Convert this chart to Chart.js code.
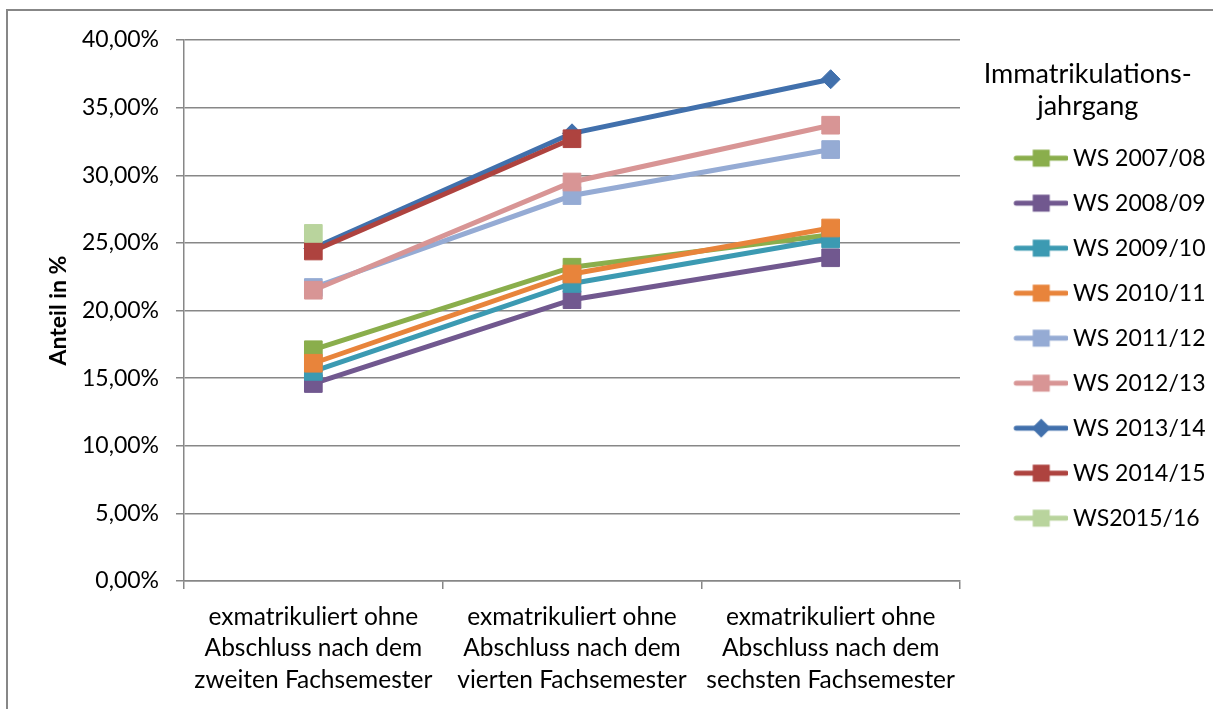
<!DOCTYPE html>
<html>
<head>
<meta charset="utf-8">
<script src="https://cdn.jsdelivr.net/npm/chart.js@4/dist/chart.umd.min.js"></script>
<style>
  html, body { margin: 0; padding: 0; background: #fff; }
  #wrap { position: relative; width: 1213px; height: 709px; overflow: hidden; }
  #frame { position: absolute; left: 6px; top: 9px; width: 1300px; height: 800px; border-left: 2px solid #878787; border-top: 2px solid #878787; }
  #c { position: absolute; left: 0; top: 0; }
</style>
</head>
<body>
<div id="wrap">
  <div id="frame"></div>
  <canvas id="c" width="1213" height="709"></canvas>
</div>
<script>
/* global Chart */
const categories = [
  ['exmatrikuliert ohne', 'Abschluss nach dem', 'zweiten Fachsemester'],
  ['exmatrikuliert ohne', 'Abschluss nach dem', 'vierten Fachsemester'],
  ['exmatrikuliert ohne', 'Abschluss nach dem', 'sechsten Fachsemester'],
];

const seriesNames = ['WS 2007/08', 'WS 2008/09', 'WS 2009/10', 'WS 2010/11', 'WS 2011/12',
  'WS 2012/13', 'WS 2013/14', 'WS 2014/15', 'WS2015/16'];

const ws0708 = [17.1, 23.2, 25.6];
const ws0809 = [14.6, 20.8, 23.9];
const ws0910 = [15.5, 22.0, 25.3];
const ws1011 = [16.1, 22.7, 26.1];
const ws1112 = [21.7, 28.5, 31.9];
const ws1213 = [21.5, 29.5, 33.7];
const ws1314 = [24.6, 33.1, 37.1];
const ws1415 = [24.4, 32.7, null];
const ws1516 = [25.7, null, null];

const seriesValues = [ws0708, ws0809, ws0910, ws1011, ws1112, ws1213, ws1314, ws1415, ws1516];
const seriesColors = ['#8AAE4C', '#71588F', '#3C9AB2', '#E8843B', '#95ABD4', '#D89595', '#4170AC', '#AE433F', '#B9D49D'];
const seriesMarkers = ['rect', 'rect', 'rect', 'rect', 'rect', 'rect', 'rectRot', 'rect', 'rect'];

const yTicks = [0, 5, 10, 15, 20, 25, 30, 35, 40];

const FONT = 'Lato, "Open Sans", sans-serif';
const LABEL_SIZE = 23;
const PLOT_RIGHT = 960;

// legend swatch: line with marker, drawn into a small canvas
function swatch(color, marker) {
  const cv = document.createElement('canvas');
  cv.width = 93;
  cv.height = 22;
  const g = cv.getContext('2d');
  g.strokeStyle = color;
  g.lineWidth = 5;
  g.lineCap = 'round';
  g.beginPath();
  g.moveTo(41, 11);
  g.lineTo(91, 11);
  g.stroke();
  g.fillStyle = color;
  if (marker === 'rectRot') {
    g.beginPath();
    g.moveTo(66, 1.5);
    g.lineTo(75.5, 11);
    g.lineTo(66, 20.5);
    g.lineTo(56.5, 11);
    g.closePath();
    g.fill();
  } else {
    g.fillRect(57.5, 2.5, 17, 17);
  }
  return cv;
}

const datasets = seriesNames.map((name, i) => ({
  label: name,
  data: seriesValues[i],
  borderColor: seriesColors[i],
  backgroundColor: seriesColors[i],
  pointBackgroundColor: seriesColors[i],
  pointBorderColor: seriesColors[i],
  pointStyle: seriesMarkers[i],
  pointRadius: seriesMarkers[i] === 'rectRot' ? 9.5 : 12.5,
  pointBorderWidth: 1,
  borderWidth: 5,
  tension: 0,
  order: seriesNames.length - i,
}));

const swatches = seriesNames.map((n, i) => swatch(seriesColors[i], seriesMarkers[i]));

const chart = new Chart(document.getElementById('c'), {
  type: 'line',
  data: { labels: categories, datasets },
  options: {
    responsive: false,
    animation: false,
    events: [],
    layout: { padding: { left: 0, top: 40, right: 10, bottom: 0 } },
    font: { family: FONT },
    scales: {
      x: {
        offset: true,
        grid: { display: true, offset: true, drawOnChartArea: false, drawTicks: true, tickLength: 8, color: '#878787', lineWidth: 1.5 },
        border: { display: true, color: '#878787', width: 1.5 },
        ticks: {
          color: '#000',
          padding: 12,
          maxRotation: 0,
          autoSkip: false,
          font: { family: FONT, size: 24.5, lineHeight: 1.29 },
        },
        afterFit: (s) => { s.height = 128; },
      },
      y: {
        min: 0,
        max: 40,
        afterBuildTicks: (s) => { s.ticks = yTicks.map((v) => ({ value: v })); },
        grid: { color: '#878787', lineWidth: 1.5, tickLength: 8 },
        border: { display: true, color: '#878787', width: 1.5 },
        ticks: {
          color: '#000',
          padding: 17,
          font: { family: FONT, size: LABEL_SIZE },
          callback: (v) => v.toFixed(2).replace('.', ',') + '%',
        },
        title: {
          display: true,
          text: 'Anteil in %',
          color: '#000',
          font: { family: FONT, size: LABEL_SIZE, weight: 'bold' },
          padding: { top: 45, bottom: 0 },
        },
        afterFit: (s) => { s.width = 184; },
      },
    },
    plugins: {
      tooltip: { enabled: false },
      legend: {
        position: 'right',
        align: 'start',
        title: {
          display: true,
          text: ['Immatrikulations-', 'jahrgang'],
          color: '#000',
          font: { family: FONT, size: 27, lineHeight: 1.19 },
          padding: { top: 20.5, bottom: 32 },
        },
        labels: {
          color: '#000',
          font: { family: FONT, size: LABEL_SIZE },
          usePointStyle: true,
          pointStyleWidth: 79.5,
          padding: 45 - LABEL_SIZE,
          generateLabels: () => seriesNames.map((name, i) => ({
            text: name,
            fillStyle: seriesColors[i],
            strokeStyle: seriesColors[i],
            fontColor: '#000',
            lineWidth: 0,
            pointStyle: swatches[i],
            hidden: false,
            datasetIndex: i,
          })),
        },
      },
    },
  },
});

// pin the plot's right edge where the reference has it
const diff = chart.chartArea.right - PLOT_RIGHT;
if (Math.abs(diff) > 0.5) {
  chart.options.layout.padding.right += diff;
  chart.update();
}
</script>
</body>
</html>
